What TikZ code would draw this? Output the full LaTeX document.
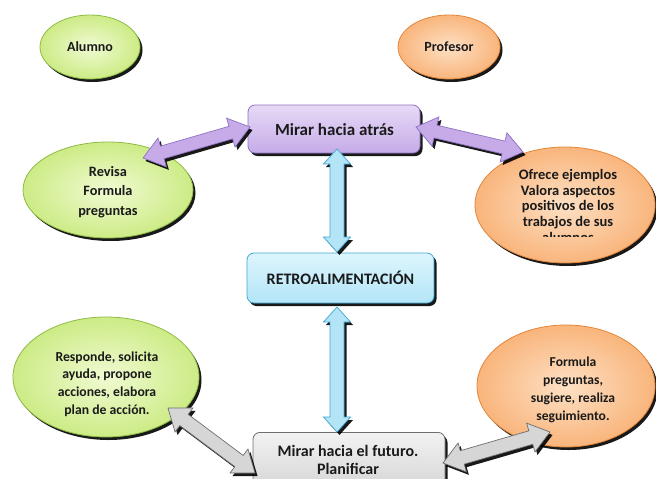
\documentclass[tikz,border=0pt]{standalone}
\usepackage{fontspec}
\setmainfont{Carlito}
\usetikzlibrary{calc,shadows,shapes.geometric}
\definecolor{txt}{HTML}{1A1A1A}
\definecolor{grnI}{HTML}{F0FBD2}
\definecolor{grnO}{HTML}{CDEB86}
\definecolor{grnB}{HTML}{8DBB45}
\definecolor{orI}{HTML}{FDE0C4}
\definecolor{orO}{HTML}{F9B57C}
\definecolor{orB}{HTML}{E3863A}
\definecolor{puT}{HTML}{E6DAF6}
\definecolor{puB}{HTML}{C6ABE8}
\definecolor{puD}{HTML}{8E72C2}
\definecolor{blT}{HTML}{DDF5FD}
\definecolor{blB}{HTML}{B3E5F7}
\definecolor{blD}{HTML}{3FA9D3}
\definecolor{grT}{HTML}{F2F2F2}
\definecolor{grB}{HTML}{CFCFCF}
\definecolor{grD}{HTML}{6E6E6E}
\tikzset{
 shad/.style={drop shadow={shadow xshift=2.5pt,shadow yshift=-3pt,opacity=0.9,fill=black}},
 greenell/.style={ellipse,draw=grnB,line width=0.8pt,inner color=grnI,outer color=grnO,shad,inner sep=0pt},
 orangeell/.style={ellipse,draw=orB,line width=0.8pt,inner color=orI,outer color=orO,shad,inner sep=0pt},
 rbox/.style={rectangle,rounded corners=7pt,line width=0.8pt,shad,inner sep=0pt},
 purplebox/.style={rbox,draw=puD,top color=puT,bottom color=puB},
 bluebox/.style={rbox,draw=blD,top color=blT,bottom color=blB},
 graybox/.style={rbox,draw=grD,top color=grT,bottom color=grB},
 lbl/.style={font=\bfseries\fontsize{14}{16}\selectfont,text=txt,align=center,inner sep=0pt},
 parrow/.style={fill=puB,draw=puD,line width=0.7pt,shad,line join=miter},
 barrow/.style={fill=blB,draw=blD,line width=0.7pt,shad},
 garrow/.style={fill=grB!85!white,draw=grD,line width=0.7pt,shad},
}
\newcommand{\fatdbl}[6]{%
 \coordinate (tmpA) at ($(#2)!#6!(#3)$);
 \coordinate (tmpB) at ($(#3)!#6!(#2)$);
 \path[#1] (#2) -- ($(tmpA)!#5!90:(#3)$) -- ($(tmpA)!#4!90:(#3)$) -- ($(tmpB)!#4!-90:(#2)$) -- ($(tmpB)!#5!-90:(#2)$) -- (#3) -- ($(tmpB)!#5!90:(#2)$) -- ($(tmpB)!#4!90:(#2)$) -- ($(tmpA)!#4!-90:(#3)$) -- ($(tmpA)!#5!-90:(#3)$) -- cycle;
}
\begin{document}
\begin{tikzpicture}[x=1pt,y=-1pt]
\useasboundingbox (0,0) rectangle (656,479);
\clip (0,0) rectangle (656,479);
% top labels
\node[greenell,minimum width=100pt,minimum height=64pt] (alumno) at (90,47) {};
\node[lbl] (alumnoT) at (90,47) {Alumno};
\node[orangeell,minimum width=102pt,minimum height=64pt] (profesor) at (449,47) {};
\node[lbl] (profesorT) at (449,47) {Profesor};
% ellipses
\node[greenell,minimum width=170pt,minimum height=96pt] (revisa) at (108,190) {};
\node[lbl,font=\bfseries\fontsize{14.3}{19.5}\selectfont] (revisaT) at (108,192) {Revisa\\Formula\\preguntas};
\node[orangeell,minimum width=180pt,minimum height=116pt] (ofrece) at (565,205) {};
\begin{scope}
\clip (470,140) rectangle (656,236.5);
\node[lbl,anchor=north,font=\bfseries\fontsize{14.5}{15.8}\selectfont] (ofreceT) at (568,169) {Ofrece ejemplos\\Valora aspectos\\positivos de los\\trabajos de sus\\alumnos};
\end{scope}
\node[greenell,minimum width=186pt,minimum height=120pt] (responde) at (106,377) {};
\node[lbl,font=\bfseries\fontsize{13.7}{17.7}\selectfont] (respondeT) at (107,384) {Responde, solicita\\ayuda, propone\\acciones, elabora\\plan de acción.};
\node[orangeell,minimum width=178pt,minimum height=122pt] (formula) at (566,386) {};
\node[lbl,font=\bfseries\fontsize{13.6}{18}\selectfont] (formulaT) at (573,390) {Formula\\preguntas,\\sugiere, realiza\\seguimiento.};
% boxes
\node[purplebox,minimum width=172pt,minimum height=48pt] (atras) at (334,129) {};
\node[lbl,font=\bfseries\fontsize{17}{19}\selectfont] (atrasT) at (334.5,130) {Mirar hacia atrás};
\node[bluebox,minimum width=187pt,minimum height=50pt] (retro) at (340.5,278) {};
\node[lbl,font=\bfseries\fontsize{16}{19}\selectfont] (retroT) at (340.5,278) {RETROALIMENTACIÓN};
\node[graybox,minimum width=192pt,minimum height=70pt,anchor=north] (futuro) at (349,432) {};
\node[lbl,anchor=north,font=\bfseries\fontsize{16}{18.5}\selectfont] (futuroT) at (348,445) {Mirar hacia el futuro.\\Planificar};
% arrow end points
\coordinate (p1a) at (250,127); \coordinate (p1b) at (143,158);
\coordinate (p2a) at (416,127); \coordinate (p2b) at (523,152);
\coordinate (b1a) at (337,149); \coordinate (b1b) at (337,252);
\coordinate (b2a) at (337,307); \coordinate (b2b) at (337,432);
\coordinate (g1a) at (168,408); \coordinate (g1b) at (255,473);
\coordinate (g2a) at (443,463); \coordinate (g2b) at (550,432);
\fatdbl{parrow}{p1a}{p1b}{6.5pt}{15pt}{20pt}
\fatdbl{parrow}{p2a}{p2b}{6.5pt}{15pt}{20pt}
\fatdbl{barrow}{b1a}{b1b}{7pt}{13.5pt}{15pt}
\fatdbl{barrow}{b2a}{b2b}{7pt}{13.5pt}{15pt}
\fatdbl{garrow}{g1a}{g1b}{7pt}{15pt}{20pt}
\fatdbl{garrow}{g2a}{g2b}{7pt}{15pt}{20pt}
\end{tikzpicture}
\end{document}
